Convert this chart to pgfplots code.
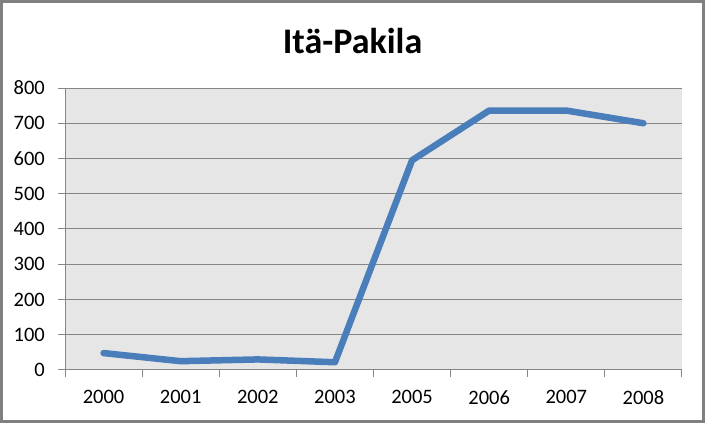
\documentclass[border=0pt]{standalone}
\usepackage{fontspec}
\setmainfont{Carlito}
\usepackage{pgfplots}
\pgfplotsset{compat=1.18}
\definecolor{linec}{RGB}{74,126,187}
\definecolor{gridc}{RGB}{134,134,134}
\definecolor{bgc}{RGB}{230,230,230}
\definecolor{framec}{RGB}{128,128,128}
\begin{document}
\begin{tikzpicture}
\useasboundingbox (0,0) rectangle (705pt,423pt);
\draw[framec, line width=3pt] (1.5pt,1.5pt) rectangle (703pt,421.5pt);
\node[anchor=base, font=\fontsize{36}{43}\selectfont\bfseries, inner sep=0pt] at (352.5pt,369pt) {Itä-Pakila};
\begin{axis}[
  at={(65pt,53pt)}, anchor=south west,
  scale only axis, width=617pt, height=282pt,
  xmin=-0.5, xmax=7.5, ymin=0, ymax=800,
  xtick={0,...,7},
  xticklabels={2000,2001,2002,2003,2005,2006,2007,2008},
  minor xtick={-0.5,0.5,...,7.5},
  ytick={0,100,...,800},
  axis x line*=bottom, axis y line*=left,
  axis line style={gridc, line width=1pt, -},
  x axis line style={-}, y axis line style={-},
  ymajorgrids, major grid style={gridc, line width=1pt},
  tick align=outside,
  xtick style={draw=none},
  minor x tick style={draw=gridc, line width=1pt},
  minor tick length=7pt,
  ytick style={gridc, line width=1pt},
  major tick length=7pt,
  /pgf/number format/assume math mode=true,
  /pgf/number format/1000 sep={},
  tick label style={font=\fontsize{20.5}{24}\selectfont, inner sep=0pt},
  x tick label style={anchor=north, yshift=-13pt},
  y tick label style={anchor=east, xshift=-13pt},
  axis background/.style={fill=bgc},
  clip=false,
]
\addplot[linec, line width=6.5pt, line join=round, line cap=round] coordinates {
(0,48) (1,25) (2,30) (3,22) (4,595) (5,736) (6,736) (7,700)
};
\end{axis}
\end{tikzpicture}
\end{document}
